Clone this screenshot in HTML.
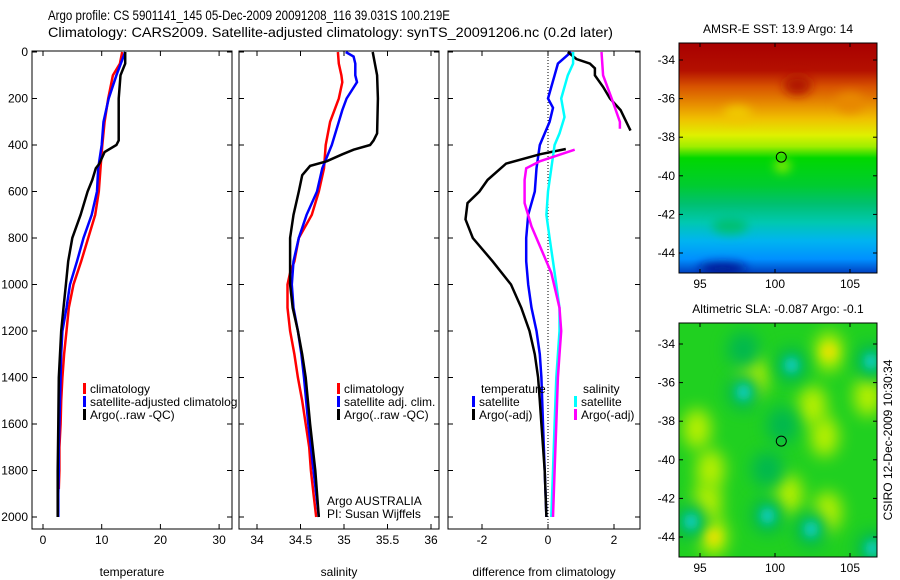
<!DOCTYPE html>
<html><head><meta charset="utf-8"><style>
body{margin:0;background:#fff;}
svg{display:block;font-family:"Liberation Sans",sans-serif;}
</style></head><body>
<svg id="fig" width="900" height="580" viewBox="0 0 900 580">
<defs>
<linearGradient id="sstg" x1="0" y1="0" x2="0" y2="1">
<stop offset="0" stop-color="#a80000"/><stop offset="0.12" stop-color="#b41000"/>
<stop offset="0.19" stop-color="#d85400"/><stop offset="0.27" stop-color="#e89000"/>
<stop offset="0.33" stop-color="#f0c000"/><stop offset="0.40" stop-color="#e0f000"/>
<stop offset="0.45" stop-color="#a0ee00"/><stop offset="0.50" stop-color="#00d800"/>
<stop offset="0.62" stop-color="#00cc30"/><stop offset="0.70" stop-color="#00c070"/>
<stop offset="0.78" stop-color="#00c8b0"/><stop offset="0.86" stop-color="#00b4f0"/>
<stop offset="0.94" stop-color="#0090ff"/><stop offset="1" stop-color="#0040c0"/>
</linearGradient>
<filter id="blur" x="-100%" y="-100%" width="300%" height="300%"><feGaussianBlur stdDeviation="5"/></filter>
<filter id="blur2" x="-100%" y="-100%" width="300%" height="300%"><feGaussianBlur stdDeviation="8"/></filter>
<clipPath id="c1"><rect x="679" y="43" width="198" height="230"/></clipPath>
<clipPath id="c2"><rect x="679" y="323" width="198" height="234"/></clipPath>
</defs>
<text x="48" y="20" font-size="14" textLength="402" lengthAdjust="spacingAndGlyphs">Argo profile: CS 5901141_145 05-Dec-2009 20091208_116 39.031S 100.219E</text>
<text x="48" y="37" font-size="14" textLength="565" lengthAdjust="spacingAndGlyphs">Climatology: CARS2009. Satellite-adjusted climatology: synTS_20091206.nc (0.2d later)</text>
<g id="plots"></g>
</svg>
<script>
// ---- data ----
const depthTicks=[0,200,400,600,800,1000,1200,1400,1600,1800,2000];
const tempTicks=[0,10,20,30];
const salTicks=[34,34.5,35,35.5,36];
const diffTicks=[-2,0,2];
const tClimDepth=[0,50,100,200,300,400,500,600,700,800,900,1000,1100,1200,1300,1400,1500,1600,1700,1800,1880];
const tClim=[13.5,13.1,11.9,11.1,10.5,10.1,9.8,9.5,8.9,7.7,6.5,5.2,4.4,4.0,3.6,3.3,3.1,3.0,2.8,2.8,2.7];
const tSatDepth=[0,100,200,300,400,500,600,700,800,900,1000,1100,1200,1300,1400,1500,1600,1700,1800,1900,2000];
const tSat=[14.0,12.5,11.2,10.3,10.0,9.4,9.2,8.3,6.9,5.8,4.6,4.0,3.3,3.1,3.0,2.9,2.8,2.7,2.7,2.6,2.6];
const tArgoDepth=[0,50,100,200,300,380,400,430,480,500,550,600,700,800,900,1000,1100,1200,1300,1400,1600,1800,2000];
const tArgo=[14.0,14.0,13.2,12.9,12.9,12.9,12.5,10.5,9.6,9.0,8.4,7.6,6.4,5.0,4.3,3.9,3.5,3.1,2.9,2.7,2.6,2.5,2.5];
const sClimDepth=[0,50,100,130,200,300,400,500,600,700,800,900,950,1000,1100,1200,1300,1400,1500,1600,1700,1800,1900,2000];
const sClim=[34.93,34.94,34.97,34.98,34.94,34.84,34.79,34.77,34.71,34.63,34.48,34.43,34.38,34.35,34.35,34.38,34.43,34.47,34.52,34.56,34.60,34.62,34.65,34.68];
const sSatDepth=[0,20,50,100,130,200,250,300,400,500,600,700,800,900,1000,1100,1200,1300,1400,1600,1800,2000];
const sSat=[35.02,35.11,35.13,35.13,35.15,35.03,34.98,34.94,34.86,34.75,34.69,34.57,34.48,34.42,34.40,34.42,34.47,34.51,34.54,34.59,34.65,34.71];
const sArgoDepth=[0,100,200,350,380,400,420,440,470,490,530,600,700,800,1000,1100,1200,1300,1400,1600,1800,2000];
const sArgo=[35.33,35.38,35.39,35.38,35.34,35.30,35.11,34.98,34.80,34.61,34.52,34.48,34.42,34.38,34.38,34.41,34.47,34.52,34.56,34.61,34.67,34.71];
const dTSatDepth=[0,50,100,200,240,300,400,500,600,700,800,900,1000,1100,1200,1300,1400,1600,1800,2000];
const dTSat=[0.7,0.3,0.2,0,0.15,0.05,-0.25,-0.35,-0.4,-0.6,-0.66,-0.66,-0.6,-0.5,-0.35,-0.25,-0.2,-0.15,-0.1,-0.05];
const dTArgoUpDepth=[0,30,50,70,100,150,200,250,338];
const dTArgoUp=[0.6,0.86,1.27,1.42,1.42,1.67,1.88,2.2,2.5];
const dTArgoDepth=[417,440,480,550,600,650,720,800,900,1000,1100,1200,1300,1400,1500,1600,1800,2000];
const dTArgo=[0.54,-0.25,-1.27,-1.83,-2.08,-2.44,-2.5,-2.28,-1.68,-1.12,-0.81,-0.56,-0.4,-0.3,-0.25,-0.2,-0.1,-0.05];
const dSSatDepth=[0,50,100,200,280,350,400,500,600,700,800,900,1000,1100,1200,1300,1400,1600,1800,2000];
const dSSat=[0.76,0.76,0.6,0.4,0.5,0.35,0.2,0.1,0,-0.05,0.05,0.15,0.25,0.35,0.35,0.3,0.25,0.2,0.15,0.1];
const dSArgoUpDepth=[0,100,200,300,330];
const dSArgoUp=[1.62,1.67,1.93,2.18,2.18];
const dSArgoDepth=[420,470,500,550,650,750,850,950,1100,1200,1300,1400,1600,1800,2000];
const dSArgo=[0.81,-0.25,-0.66,-0.71,-0.71,-0.5,-0.2,0.1,0.35,0.4,0.35,0.3,0.25,0.2,0.15];
const lonTicks=[95,100,105];
const latTicks=[-34,-36,-38,-40,-42,-44];
const argoLon=100.219, argoLat=-39.031;
const slaCyan=[[101.1,-35.1],[97.9,-36.5],[99.5,-42.9],[102.4,-43.6],[106.4,-34.9],[106.5,-44.6],[94.4,-43.2],[97.9,-34.3],[99.5,-40.5],[100.5,-38.2]];
const slaYellow=[[103.6,-34.4],[95.9,-44.0],[94.8,-38.4],[95.7,-40.5],[95.5,-42.2],[106.2,-36.7],[100.9,-41.8],[103.5,-42.7],[98.6,-35.7],[102.5,-37.2],[103.3,-38.8]];

// ---- helpers ----
const NS='http://www.w3.org/2000/svg';
const root=document.getElementById('plots');
function mk(tag,attrs,parent){const e=document.createElementNS(NS,tag);for(const k in attrs)e.setAttribute(k,attrs[k]);(parent||root).appendChild(e);return e;}
const yD=d=>52+d*0.2325;
const xT=t=>43+t*5.87;
const xS=s=>257+(s-34)*87;
const xDf=v=>548+v*33;
const panels=[{x:32,w:200,ticks:tempTicks,f:xT,label:'temperature',name:'temperature-panel'},
 {x:239,w:200,ticks:salTicks,f:xS,label:'salinity',name:'salinity-panel'},
 {x:448,w:192,ticks:diffTicks,f:xDf,label:'difference from climatology',name:'difference-panel'}];
const pTop=51,pBot=529;
panels.forEach((p,i)=>{
  const g=mk('g',{});
  
  
  const r=mk('rect',{x:p.x,y:pTop,width:p.w,height:pBot-pTop,fill:'none',stroke:'#000','stroke-width':1},g);
  
  
  depthTicks.forEach(d=>{
    mk('line',{x1:p.x,x2:p.x+5,y1:yD(d),y2:yD(d),stroke:'#000'},g);
    mk('line',{x1:p.x+p.w-5,x2:p.x+p.w,y1:yD(d),y2:yD(d),stroke:'#000'},g);
    if(i===0){const t=mk('text',{x:p.x-4,y:yD(d)+4,'font-size':12,'text-anchor':'end'},g);t.textContent=d;
      
      }
  });
  p.ticks.forEach(v=>{
    const x=p.f(v);
    mk('line',{x1:x,x2:x,y1:pTop,y2:pTop+5,stroke:'#000'},g);
    mk('line',{x1:x,x2:x,y1:pBot-5,y2:pBot,stroke:'#000'},g);
    const t=mk('text',{x:x,y:544,'font-size':12,'text-anchor':'middle'},g);t.textContent=v;
    
    
  });
  const l=mk('text',{x:p.x+p.w/2,y:576,'font-size':12,'text-anchor':'middle'},g);l.textContent=p.label;
  
  
});
mk('line',{x1:xDf(0),x2:xDf(0),y1:pTop,y2:pBot,stroke:'#000','stroke-dasharray':'1,2'});
function line(xs,ds,fx,col,name){
  const pts=xs.map((v,i)=>fx(v).toFixed(1)+','+yD(ds[i]).toFixed(1)).join(' ');
  const e=mk('polyline',{points:pts,fill:'none',stroke:col,'stroke-width':2.5});
  
  
}
line(tClim,tClimDepth,xT,'#f00','temp-climatology-line');
line(tSat,tSatDepth,xT,'#00f','temp-satellite-line');
line(tArgo,tArgoDepth,xT,'#000','temp-argo-line');
line(sClim,sClimDepth,xS,'#f00','sal-climatology-line');
line(sSat,sSatDepth,xS,'#00f','sal-satellite-line');
line(sArgo,sArgoDepth,xS,'#000','sal-argo-line');
line(dTSat,dTSatDepth,xDf,'#00f','diff-temp-satellite-line');
line(dTArgoUp,dTArgoUpDepth,xDf,'#000','diff-temp-argo-upper-line');
line(dTArgo,dTArgoDepth,xDf,'#000','diff-temp-argo-line');
line(dSSat,dSSatDepth,xDf,'#0ff','diff-sal-satellite-line');
line(dSArgoUp,dSArgoUpDepth,xDf,'#f0f','diff-sal-argo-upper-line');
line(dSArgo,dSArgoDepth,xDf,'#f0f','diff-sal-argo-line');
function leg(x,y,col,txt,name){
  if(col){const m=mk('rect',{x:x,y:y-10,width:3,height:11,fill:col});
    
    }
  const t=mk('text',{x:x+7,y:y,'font-size':12});t.textContent=txt;
  
  
}
leg(83,393,'#f00','climatology','legend-climatology');
leg(83,406,'#00f','satellite-adjusted climatolog','legend-satellite-adjusted');
leg(83,419,'#000','Argo(..raw -QC)','legend-argo-raw');
leg(337,393,'#f00','climatology','legend-sal-climatology');
leg(337,406,'#00f','satellite adj. clim.','legend-sal-satellite');
leg(337,419,'#000','Argo(..raw -QC)','legend-sal-argo');
leg(474,393,null,'temperature','legend-temp-header');
leg(472,406,'#00f','satellite','legend-temp-satellite');
leg(472,419,'#000','Argo(-adj)','legend-temp-argo');
leg(576,393,null,'salinity','legend-sal-header');
leg(574,406,'#0ff','satellite','legend-sal-satellite2');
leg(574,419,'#f0f','Argo(-adj)','legend-sal-argo2');
const c1=mk('text',{x:327,y:505,'font-size':12});c1.textContent='Argo AUSTRALIA';


const c2=mk('text',{x:327,y:518,'font-size':12});c2.textContent='PI: Susan Wijffels';



// ---- maps ----
function map(y0,h,lat34y,lat44y,title,name,clip,draw){
  const g=mk('g',{});
  
  
  const fx=lon=>775+(lon-100)*15;
  const fy=lat=>lat34y+(-34-lat)*(lat44y-lat34y)/10;
  const inner=mk('g',{'clip-path':'url(#'+clip+')'},g);
  draw(inner,fx,fy);
  mk('rect',{x:679,y:y0,width:198,height:h,fill:'none',stroke:'#000'},g);
  lonTicks.forEach(l=>{
    mk('line',{x1:fx(l),x2:fx(l),y1:y0,y2:y0+4,stroke:'#000'},g);
    mk('line',{x1:fx(l),x2:fx(l),y1:y0+h-4,y2:y0+h,stroke:'#000'},g);
    const t=mk('text',{x:fx(l),y:y0+h+15,'font-size':12,'text-anchor':'middle'},g);t.textContent=l;
    
    
  });
  latTicks.forEach(l=>{
    mk('line',{x1:679,x2:683,y1:fy(l),y2:fy(l),stroke:'#000'},g);
    mk('line',{x1:873,x2:877,y1:fy(l),y2:fy(l),stroke:'#000'},g);
    const t=mk('text',{x:675,y:fy(l)+4,'font-size':12,'text-anchor':'end'},g);t.textContent=l;
    
    
  });
  const c=mk('ellipse',{cx:fx(argoLon)+3,cy:fy(argoLat),rx:5,ry:5,fill:'none',stroke:'#000'},g);
  
  
  const t=mk('text',{x:778,y:y0-10,'font-size':12,'text-anchor':'middle'},g);t.textContent=title;
  
  
}
map(43,230,60,253,'AMSR-E SST: 13.9 Argo: 14','sst-map','c1',(g,fx,fy)=>{
  mk('rect',{x:679,y:43,width:198,height:230,fill:'url(#sstg)'},g);
  mk('ellipse',{cx:fx(101.5),cy:fy(-35.3),rx:14,ry:10,fill:'#b01800',filter:'url(#blur)'},g);
  mk('ellipse',{cx:fx(97.5),cy:fy(-36.8),rx:14,ry:8,fill:'#f0c800',filter:'url(#blur)'},g);
  mk('ellipse',{cx:fx(105),cy:fy(-36.2),rx:14,ry:10,fill:'#e88800',filter:'url(#blur)'},g);
  mk('ellipse',{cx:fx(100.5),cy:fy(-39.5),rx:8,ry:6,fill:'#90ee00',filter:'url(#blur)'},g);
  mk('ellipse',{cx:fx(96.5),cy:fy(-44.8),rx:24,ry:6,fill:'#001890',filter:'url(#blur)'},g);
  mk('ellipse',{cx:fx(97),cy:fy(-42.6),rx:18,ry:8,fill:'#00c070',filter:'url(#blur)'},g);
});
map(323,234,344,537,'Altimetric SLA: -0.087 Argo: -0.1','sla-map','c2',(g,fx,fy)=>{
  mk('rect',{x:679,y:323,width:198,height:234,fill:'#20d020'},g);
  slaYellow.forEach(p=>mk('ellipse',{cx:fx(p[0]),cy:fy(p[1]),rx:14,ry:20,fill:'#b8f000',filter:'url(#blur2)'},g));
  slaCyan.forEach(p=>mk('ellipse',{cx:fx(p[0]),cy:fy(p[1]),rx:16,ry:18,fill:'#00b850',filter:'url(#blur2)'},g));
  slaCyan.slice(0,7).forEach(p=>mk('ellipse',{cx:fx(p[0]),cy:fy(p[1]),rx:7,ry:8,fill:'#10d0c8',filter:'url(#blur)'},g));
  slaYellow.slice(0,2).forEach(p=>mk('ellipse',{cx:fx(p[0]),cy:fy(p[1]),rx:7,ry:7,fill:'#f0e000',filter:'url(#blur)'},g));
});
const cs=mk('text',{x:0,y:0,'font-size':12,'text-anchor':'middle',transform:'translate(892,440) rotate(-90)'});
cs.textContent='CSIRO 12-Dec-2009 10:30:34';


</script>
</body></html>
